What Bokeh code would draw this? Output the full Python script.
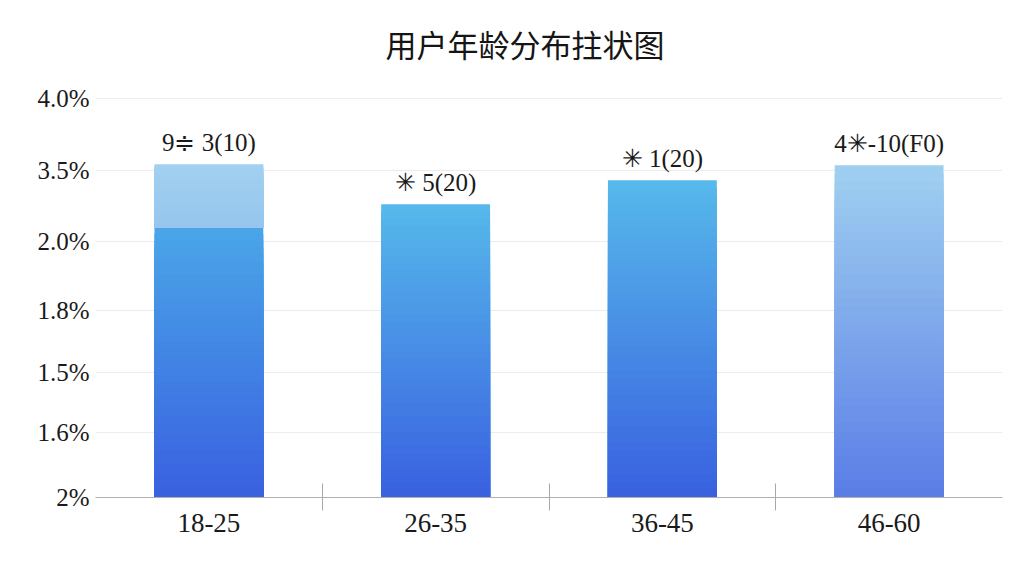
from bokeh.plotting import figure
from bokeh.models import FixedTicker, Range1d
from bokeh.core.properties import value
from bokeh.embed import file_html
from bokeh.resources import INLINE
import numpy as np

# ---------------- data ----------------
title_text = "用户年龄分布拄状图"
categories = ["18-25", "26-35", "36-45", "46-60"]
bar_values = [3.34, 2.94, 3.18, 3.33]
split_values = [2.71, None, None, None]   # first bar: darker lower part ends here
bar_labels = ["9≑ 3(10)", "✳ 5(20)", "✳ 1(20)", "4✳-10(F0)"]
tick_positions = [0.0, 0.65, 1.25, 1.87, 2.57, 3.28, 4.0]
tick_labels = ["2%", "1.6%", "1.5%", "1.8%", "2.0%", "3.5%", "4.0%"]

# ---------------- styles ----------------
serif = "Liberation Serif"
main_bottom, main_top = "#3960e0", "#56b9eb"
light_bottom, light_top = "#96c6ee", "#a2d0f0"
pale_bottom, pale_top = "#5a7de6", "#a0d0f0"


def hex2rgb(h):
    h = h.lstrip("#")
    return [int(h[i:i + 2], 16) for i in (0, 2, 4)]


def lerp(c1, c2, t):
    a, b = hex2rgb(c1), hex2rgb(c2)
    return "#%02x%02x%02x" % tuple(int(round(a[k] + (b[k] - a[k]) * t)) for k in range(3))


xs = [i + 0.5 for i in range(len(categories))]

p = figure(width=1016, height=568, output_backend="svg", toolbar_location=None,
           x_range=Range1d(0, 4), y_range=Range1d(0, 4.18),
           min_border_left=95, min_border_right=14, min_border_top=80, min_border_bottom=71)
p.outline_line_color = None
p.background_fill_color = "white"
p.border_fill_color = "white"

# gradient bars: nested bars drawn tallest first, each shorter one on top
segments = []
for i, v in enumerate(bar_values):
    s = split_values[i]
    if s is not None:
        segments.append((xs[i], 0.0, s, main_bottom, "#4aa6e8"))
        segments.append((xs[i], s, v, light_bottom, light_top))
    elif i == 3:
        segments.append((xs[i], 0.0, v, pale_bottom, pale_top))
    else:
        segments.append((xs[i], 0.0, v, main_bottom, main_top))

sx, sb, st, sc = [], [], [], []
n = 40
for (x, y0, y1, c0, c1) in segments:
    edges = np.linspace(y0, y1, n + 1)
    for k in range(n, 0, -1):
        sx.append(x)
        sb.append(y0)
        st.append(edges[k])
        sc.append(lerp(c0, c1, (k - 0.5) / n))

p.vbar(x=sx, bottom=sb, top=st, width=0.48, fill_color=sc, line_color=None)

# labels above the bars
p.text(x=xs, y=bar_values, text=bar_labels, text_align="center", text_baseline="bottom",
       y_offset=-8, text_font=value(serif), text_font_size="25px", text_color="#1a1a1a")

# title
p.title.text = title_text
p.title.align = "left"
p.title.offset = 290
p.title.standoff = 29
p.title.text_font = "Noto Sans CJK SC"
p.title.text_font_size = "31px"
p.title.text_font_style = "normal"
p.title.text_color = "#151515"

# y axis
p.yaxis.ticker = FixedTicker(ticks=tick_positions, minor_ticks=[])
p.yaxis.major_label_overrides = {t: l for t, l in zip(tick_positions, tick_labels)}
p.yaxis.axis_line_color = None
p.yaxis.major_tick_line_color = None
p.yaxis.minor_tick_line_color = None
p.yaxis.major_label_text_font = serif
p.yaxis.major_label_text_font_size = "25px"
p.yaxis.major_label_text_color = "#1a1a1a"
p.yaxis.major_label_standoff = 0

# x axis
p.xaxis.ticker = FixedTicker(ticks=xs, minor_ticks=[1, 2, 3])
p.xaxis.major_label_overrides = {x: c for x, c in zip(xs, categories)}
p.xaxis.axis_line_color = "#b0b0b0"
p.xaxis.major_tick_line_color = None
p.xaxis.minor_tick_line_color = "#a8a8a8"
p.xaxis.minor_tick_in = 14
p.xaxis.minor_tick_out = 13
p.xaxis.major_label_text_font = serif
p.xaxis.major_label_text_font_size = "27px"
p.xaxis.major_label_text_color = "#1a1a1a"
p.xaxis.major_label_standoff = 3

p.xgrid.grid_line_color = None
p.ygrid.grid_line_color = "#ececec"

open("out.html", "w").write(file_html(p, INLINE))
